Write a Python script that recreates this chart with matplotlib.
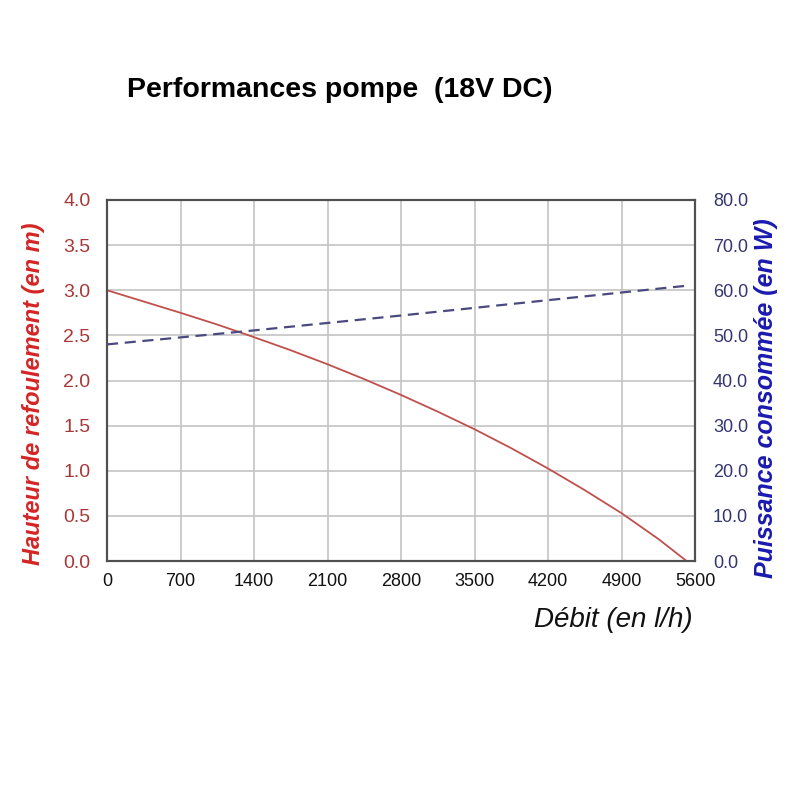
import matplotlib
matplotlib.use("Agg")
import matplotlib.pyplot as plt
import numpy as np

plt.rcParams['font.family'] = ['Liberation Sans', 'DejaVu Sans']

# Data
flow_head = [0, 350, 700, 1050, 1400, 1750, 2100, 2450, 2800, 3150, 3500,
             3850, 4200, 4550, 4900, 5250, 5520]
head = [3.0, 2.875, 2.75, 2.62, 2.48, 2.335, 2.18, 2.015, 1.84, 1.655, 1.46,
        1.25, 1.025, 0.785, 0.53, 0.245, 0.0]
flow_power = [0, 1400, 2800, 3500, 4200, 4900, 5520]
power = [48.0, 51.1, 54.4, 56.1, 57.8, 59.5, 61.0]

x_ticks = [0, 700, 1400, 2100, 2800, 3500, 4200, 4900, 5600]
left_ticks = [0.0, 0.5, 1.0, 1.5, 2.0, 2.5, 3.0, 3.5, 4.0]
right_ticks = [0, 10, 20, 30, 40, 50, 60, 70, 80]

title = "Performances pompe  (18V DC)"
xlabel = "Débit (en l/h)"
ylabel_left = "Hauteur de refoulement (en m)"
ylabel_right = "Puissance consommée (en W)"

fig = plt.figure(figsize=(8, 7.97), dpi=100)
ax = fig.add_axes([107/800, 1-561/797, 588/800, 361/797])
ax2 = ax.twinx()

ax.plot(flow_head, head, color='#c0504d', lw=1.3, zorder=3,
        solid_joinstyle='round')
ax2.plot(flow_power, power, color='#4a4a80', lw=1.6, ls=(0, (5, 3)), zorder=3)

ax.set_xlim(0, 5600)
ax.set_ylim(0, 4.0)
ax2.set_ylim(0, 80)
ax.set_xticks(x_ticks)
ax.set_xticklabels([str(v) for v in x_ticks])
ax.set_yticks(left_ticks)
ax.set_yticklabels([f"{v:.1f}" for v in left_ticks])
ax2.set_yticks(right_ticks)
ax2.set_yticklabels([f"{v:.1f}" for v in right_ticks])

ax.grid(True, color='#c4c4c4', lw=1.2)
ax.set_axisbelow(True)
for a in (ax, ax2):
    for s in a.spines.values():
        s.set_color('#505050')
        s.set_linewidth(1.5)
ax.tick_params(axis='x', length=0, pad=9, labelsize=13, labelcolor='#111111')
ax.tick_params(axis='y', length=0, pad=12, labelsize=14, labelcolor='#a83838')
ax2.tick_params(axis='y', length=0, pad=13, labelsize=13, labelcolor='#353570')

fig.text(340/800, 1-90/797, title, ha='center', va='center', fontsize=20.5,
         fontweight='bold', color='black')
fig.text(693/800, 1-620/797, xlabel, ha='right', va='center', fontsize=20,
         fontstyle='italic', color='#111111')
fig.text(34/800, 1-394/797, ylabel_left, ha='center', va='center', rotation=90,
         fontsize=17, fontweight='bold', fontstyle='italic', color='#d42525')
fig.text(766/800, 1-398/797, ylabel_right, ha='center', va='center', rotation=90,
         fontsize=18, fontweight='bold', fontstyle='italic', color='#1a1ab0')

fig.savefig('out.png', dpi=100, facecolor='white')
